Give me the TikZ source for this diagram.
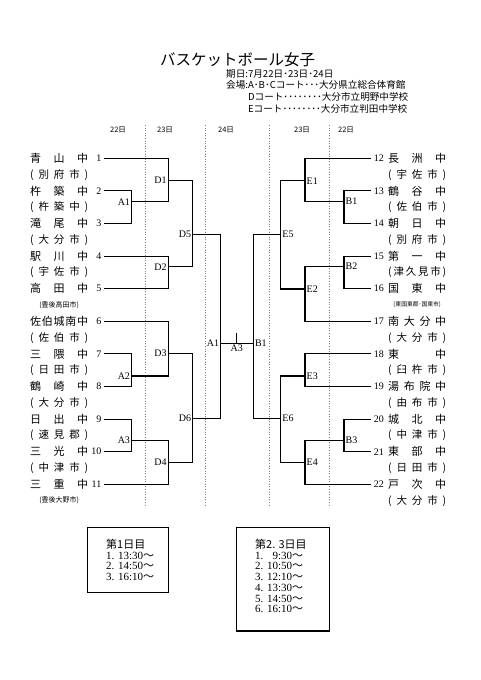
\documentclass[tikz,border=0pt]{standalone}
\usepackage{fontspec}
\setmainfont{Liberation Serif}
\newfontfamily\jp{Noto Sans CJK JP}
\usetikzlibrary{positioning}
% spread the characters of a name over a fixed width
\def\sprdA#1#2\relax{#1\if\relax\detokenize{#2}\relax\else\hfill\sprdA#2\relax\fi}
\newcommand{\sprd}[1]{\expandafter\sprdA#1\relax}
\newcommand{\jname}[1]{\makebox[58pt][s]{\jp\fontsize{11}{11}\selectfont\sprd{#1}}}
\newcommand{\cityname}[1]{\makebox[58pt][s]{\jp\fontsize{10.5}{10.5}\selectfont\sprd{(#1)}}}
\newcommand{\smallcity}[2][7]{\makebox[58pt][c]{\jp\fontsize{#1}{#1}\selectfont(#2)}}
\newcommand{\lblfont}{\fontsize{10}{10}\selectfont}
\tikzset{
  bk/.style={line width=1.1pt},
  guide/.style={draw=gray, dotted, line width=0.6pt},
  numL/.style={anchor=east, inner xsep=2pt, inner ysep=0pt, font=\lblfont},
  numR/.style={anchor=west, inner xsep=3pt, inner ysep=0pt, font=\lblfont},
  team/.style={anchor=west, inner sep=0pt},
  mL/.style={anchor=east, inner xsep=1.5pt, inner ysep=0pt, font=\lblfont},
  mR/.style={anchor=west, inner xsep=1.5pt, inner ysep=0pt, font=\lblfont},
  hdr/.style={font=\jp\fontsize{7.5}{7.5}\selectfont},
  info/.style={anchor=north west, inner sep=0pt, align=left, font=\jp\fontsize{9.6}{11.7}\selectfont},
  times/.style={anchor=north west, inner sep=0pt, align=left, font=\fontsize{11}{10.7}\selectfont},
  boxln/.style={line width=1.1pt}
}

\begin{document}
\begin{tikzpicture}[x=1pt,y=-1pt]
  \useasboundingbox (0,0) rectangle (481,680);

  \node (title) at (237.5,60) {\jp\fontsize{15.5}{15.5}\selectfont バスケットボール女子};
  \node[info] (info) at (226,69) {期日:7月22日･23日･24日\\
    会場:A･B･Cコート･･･大分県立総合体育館\\
    \phantom{会場:}Dコート････････大分市立明野中学校\\
    \phantom{会場:}Eコート････････大分市立判田中学校};

  % day columns
  \foreach \x in {145,205,269,329}
    \draw[guide] (\x,125) -- (\x,505);
  \node[hdr] (h1) at (118,130) {22日};
  \node[hdr] (h2) at (165,130) {23日};
  \node[hdr] (h3) at (226,130) {24日};
  \node[hdr] (h4) at (302,130) {23日};
  \node[hdr] (h5) at (346,130) {22日};

  % teams
  \foreach \i/\nm/\ct in {
    1/青山中/\cityname{別府市},
    2/杵築中/\cityname{杵築中},
    3/滝尾中/\cityname{大分市},
    4/駅川中/\cityname{宇佐市},
    5/高田中/\smallcity{豊後高田市},
    6/佐伯城南中/\cityname{佐伯市},
    7/三隈中/\cityname{日田市},
    8/鶴崎中/\cityname{大分市},
    9/日出中/\cityname{速見郡},
    10/三光中/\cityname{中津市},
    11/三重中/\smallcity{豊後大野市}}
  {
    \node[numL] (t\i) at (103.5,{158.3+32.6*(\i-1)}) {\i};
    \node[team] (n\i) at (30,{158.3+32.6*(\i-1)}) {\jname{\nm}};
    \node[team] (c\i) at (30,{174.6+32.6*(\i-1)}) {\ct};
  }
  \foreach \i/\nm/\ct in {
    12/長洲中/\cityname{宇佐市},
    13/鶴谷中/\cityname{佐伯市},
    14/朝日中/\cityname{別府市},
    15/第一中/\cityname{津久見市},
    16/国東中/\smallcity[5.8]{東国東郡･国東市},
    17/南大分中/\cityname{大分市},
    18/東中/\cityname{臼杵市},
    19/湯布院中/\cityname{由布市},
    20/城北中/\cityname{中津市},
    21/東部中/\cityname{日田市},
    22/戸次中/\cityname{大分市}}
  {
    \node[numR] (t\i) at (370.7,{158.3+32.6*(\i-12)}) {\i};
    \node[team] (n\i) at (388,{158.3+32.6*(\i-12)}) {\jname{\nm}};
    \node[team] (c\i) at (388,{174.6+32.6*(\i-12)}) {\ct};
  }

  % left half
  \node[mL] (A1) at (131.7,201.7) {A1};
  \node[mL] (A2) at (131.7,376) {A2};
  \node[mL] (A3) at (131.7,440.7) {A3};
  \node[mL] (D1) at (168.3,180.3) {D1};
  \node[mL] (D2) at (168.3,266.7) {D2};
  \node[mL] (D3) at (168.3,353.3) {D3};
  \node[mL] (D4) at (168.3,462.7) {D4};
  \node[mL] (D5) at (192.7,234.3) {D5};
  \node[mL] (D6) at (192.7,418.3) {D6};
  \draw[bk] (t2.east) -| (A1.east) |- (t3.east);
  \draw[bk] (t7.east) -| (A2.east) |- (t8.east);
  \draw[bk] (t9.east) -| (A3.east) |- (t10.east);
  \draw[bk] (t1.east) -| (D1.east) |- (A1.east);
  \draw[bk] (t4.east) -| (D2.east) |- (t5.east);
  \draw[bk] (t6.east) -| (D3.east) |- (A2.east);
  \draw[bk] (A3.east) -| (D4.east) |- (t11.east);
  \draw[bk] (D1.east) -| (D5.east) |- (D2.east);
  \draw[bk] (D3.east) -| (D6.east) |- (D4.east);

  % right half
  \node[mR] (B1) at (344,201.7) {B1};
  \node[mR] (B2) at (344,266.7) {B2};
  \node[mR] (B3) at (344,440.7) {B3};
  \node[mR] (E1) at (305,180.7) {E1};
  \node[mR] (E2) at (305,289) {E2};
  \node[mR] (E3) at (305,376) {E3};
  \node[mR] (E4) at (305,462.7) {E4};
  \node[mR] (E5) at (280.7,234.3) {E5};
  \node[mR] (E6) at (280.7,418.3) {E6};
  \draw[bk] (t13.west) -| (B1.west) |- (t14.west);
  \draw[bk] (t15.west) -| (B2.west) |- (t16.west);
  \draw[bk] (t20.west) -| (B3.west) |- (t21.west);
  \draw[bk] (t12.west) -| (E1.west) |- (B1.west);
  \draw[bk] (B2.west) -| (E2.west) |- (t17.west);
  \draw[bk] (t18.west) -| (E3.west) |- (t19.west);
  \draw[bk] (B3.west) -| (E4.west) |- (t22.west);
  \draw[bk] (E1.west) -| (E5.west) |- (E2.west);
  \draw[bk] (E3.west) -| (E6.west) |- (E4.west);

  % final
  \node[mL] (fA1) at (220.7,343.3) {A1};
  \node[mR] (fB1) at (253.3,343.3) {B1};
  \node[anchor=north, inner sep=1pt, font=\lblfont] (fA3) at (236.7,343.3) {A3};
  \draw[bk] (D5.east) -| (fA1.east) |- (D6.east);
  \draw[bk] (E5.west) -| (fB1.west) |- (E6.west);
  \draw[bk] (fA1.east) -- (fB1.west);
  \draw[bk] (fA3.north) -- ++(0,-10.6);

  % game times
  \draw[boxln] (87.3,527.7) rectangle (168.3,592.3);
  \node[times] (day1) at (106,539) {{\jp 第1日目}\\1. 13:30{\jp ～}\\2. 14:50{\jp ～}\\3. 16:10{\jp ～}};
  \draw[boxln] (236.7,527.7) rectangle (329.3,631);
  \node[times] (day23) at (255,539) {{\jp 第2. 3日目}\\1. \phantom{1}9:30{\jp ～}\\2. 10:50{\jp ～}\\3. 12:10{\jp ～}\\4. 13:30{\jp ～}\\5. 14:50{\jp ～}\\6. 16:10{\jp ～}};
\end{tikzpicture}
\end{document}
